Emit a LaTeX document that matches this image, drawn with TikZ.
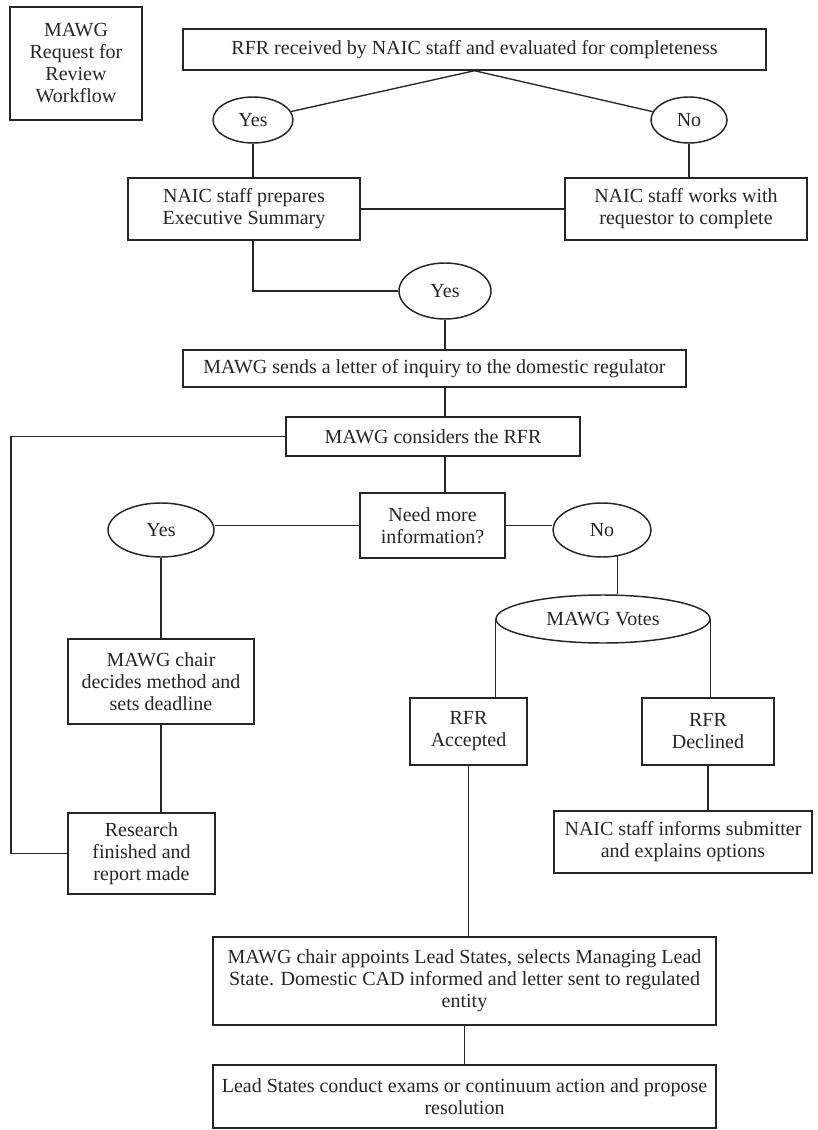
\documentclass[tikz,border=0pt]{standalone}
\usepackage{fontspec}
\setmainfont{Liberation Serif}
\usetikzlibrary{shapes.geometric}
\newcommand{\fsz}{\fontsize{15}{16.5}\selectfont}
\tikzset{
  ln/.style={draw=black!85, line width=1pt},
  bx/.style={rectangle, draw=black!85, line width=1.1pt, fill=white, inner sep=0pt, align=center, font=\fsz, text=black!85},
  el/.style={ellipse, draw=black!85, line width=1.1pt, fill=white, inner sep=0pt, align=center, font=\fsz, text=black!85},
}
\begin{document}
\begin{tikzpicture}[x=0.75pt,y=-0.75pt]
\useasboundingbox (0,0) rectangle (817,1130);
\fill[white] (0,0) rectangle (817,1130);

% boxes
\node[bx, minimum width=99pt, minimum height=84.75pt] (title) at (76,63.5) {MAWG\\Request for\\Review\\Workflow};
\node[bx, minimum width=437.25pt, minimum height=30.75pt] (top) at (474.5,49.5) {RFR received by NAIC staff and evaluated for completeness};
\node[el, minimum width=60pt, minimum height=34.5pt] (yes1) at (253,120) {Yes};
\node[el, minimum width=57pt, minimum height=34.5pt] (no1) at (689,120) {No};
\node[bx, minimum width=174pt, minimum height=46.5pt] (prep) at (244,209) {NAIC staff prepares\\Executive Summary};
\node[bx, minimum width=181.5pt, minimum height=46.5pt] (works) at (686,209) {NAIC staff works with\\requestor to complete};
\node[el, minimum width=69pt, minimum height=42pt] (yes2) at (445,291) {Yes};
\node[bx, minimum width=377.25pt, minimum height=27.75pt] (send) at (434.5,368.5) {MAWG sends a letter of inquiry to the domestic regulator};
\node[bx, minimum width=220.5pt, minimum height=29.25pt] (consider) at (433,436.5) {MAWG considers the RFR};
\node[bx, minimum width=108.75pt, minimum height=48.75pt] (need) at (432.5,525.5) {Need more\\information?};
\node[el, minimum width=79.5pt, minimum height=40.5pt] (yes3) at (161,530) {Yes};
\node[el, minimum width=73.5pt, minimum height=40.5pt] (no3) at (602,530) {No};
\node[bx, minimum width=139.5pt, minimum height=63.75pt] (decide) at (161,681.5) {MAWG chair\\decides method and\\sets deadline};
\node[bx, minimum width=110.25pt, minimum height=60.75pt] (research) at (141.5,853.5) {Research\\finished and\\report made};
\node[el, minimum width=160.5pt, minimum height=36pt] (votes) at (603,619) {MAWG Votes};
\node[bx, minimum width=87.75pt, minimum height=50.25pt] (acc) at (468.5,731.5) {RFR\\Accepted};
\node[bx, minimum width=99pt, minimum height=50.25pt] (dec) at (708,731.5) {RFR\\Declined};
\node[bx, minimum width=193.5pt, minimum height=46.5pt] (informs) at (683,842) {NAIC staff informs submitter\\and explains options};
\node[bx, minimum width=377.25pt, minimum height=66pt] (lead) at (464.5,981) {MAWG chair appoints Lead States, selects Managing Lead\\State. Domestic CAD informed and letter sent to regulated\\entity};
\node[bx, minimum width=377.25pt, minimum height=47.25pt] (final) at (464.5,1096.5) {Lead States conduct exams or continuum action and propose\\resolution};

% connectors
\draw[ln] (top.south) -- (yes1);
\draw[ln] (top.south) -- (no1);
\draw[ln] (yes1.south) -- (yes1.south |- prep.north);
\draw[ln] (no1.south) -- (no1.south |- works.north);
\draw[ln] (prep.east) -- (works.west);
\draw[ln] (yes1.south |- prep.south) |- (yes2.west);
\draw[ln] (yes2.south) -- (yes2.south |- send.north);
\draw[ln] (yes2.south |- send.south) -- (yes2.south |- consider.north);
\draw[ln] (yes2.south |- consider.south) -- (yes2.south |- need.north);
\draw[ln] (need.west) -- (need.west -| yes3.east);
\draw[ln] (need.east) -- (need.east -| no3.west);
\draw[ln] (no3.-60) -- (no3.-60 |- votes.north);
\draw[ln] (votes.west) -- (votes.west |- acc.north);
\draw[ln] (votes.east) -- (votes.east |- dec.north);
\draw[ln] (dec.south) -- (dec.south |- informs.north);
\draw[ln] (yes3.south) -- (yes3.south |- decide.north);
\draw[ln] (decide.south) -- (decide.south |- research.north);
\draw[ln] (consider.west) -| (11,700) |- (research.west);
\draw[ln] (acc.south) -- (acc.south |- lead.north);
\draw[ln] (lead.south) -- (final.north);
\end{tikzpicture}
\end{document}
